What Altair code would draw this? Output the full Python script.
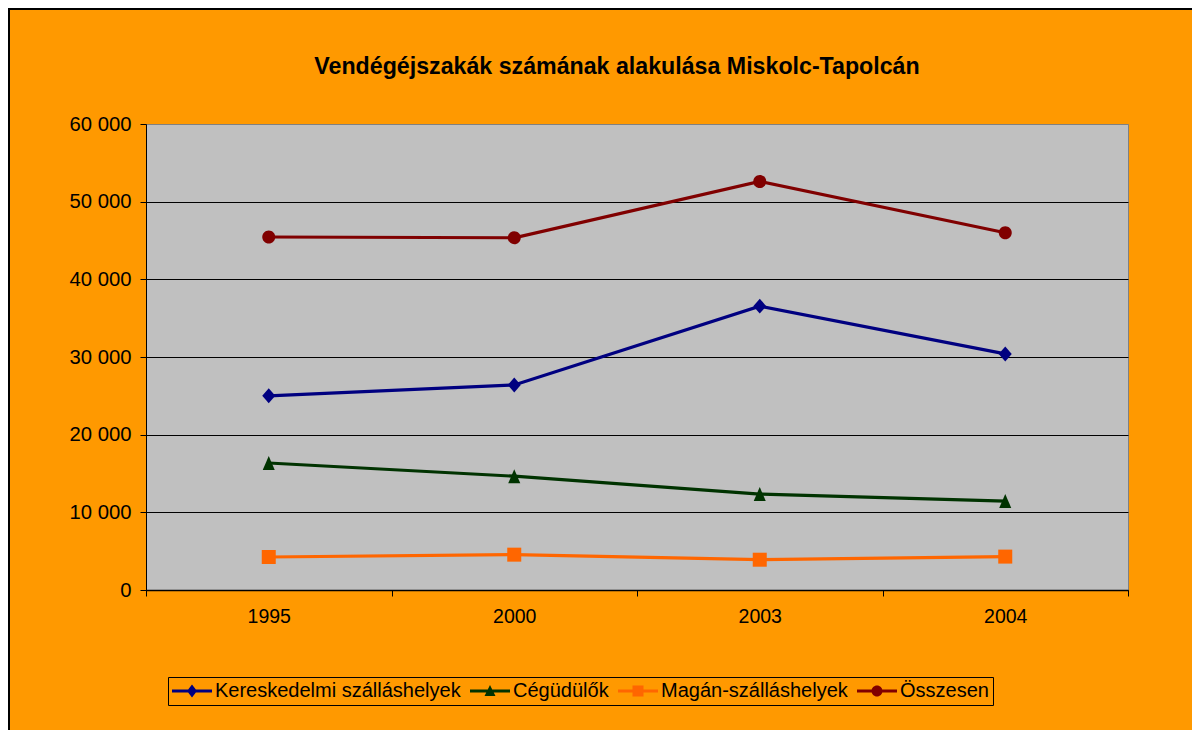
import altair as alt
import pandas as pd

# ---- data ----
years = ["1995", "2000", "2003", "2004"]
series_names = ["Kereskedelmi szálláshelyek", "Cégüdülők", "Magán-szálláshelyek", "Összesen"]
kereskedelmi = [25000, 26400, 36550, 30400]
cegudulok = [16350, 14650, 12350, 11450]
magan = [4250, 4550, 3900, 4300]
osszesen = [45450, 45350, 52600, 46000]
y_ticks = [0, 10000, 20000, 30000, 40000, 50000, 60000]
title_text = "Vendégéjszakák számának alakulása Miskolc-Tapolcán"

colors = ["#000080", "#003300", "#FF6600", "#800000"]

# marker shapes in the plot (custom paths, unit = sqrt(size)/2)
plot_shapes = [
    "M0,-1.07L0.93,0L0,1.07L-0.93,0Z",
    "M0,-1L0.86,1H-0.86Z",
    "M-1,-1H1V1H-1Z",
    "M-0.93,0A0.93,0.93 0 1,1 0.93,0A0.93,0.93 0 1,1 -0.93,0Z",
]
# legend symbols: line (thin filled bar) + marker
LINE = "M-1,-0.15H3V0.15H-1Z"
legend_shapes = [
    LINE + "M1,-0.65L1.5,0L1,0.65L0.5,0Z",
    LINE + "M1,-0.6L1.55,0.5H0.45Z",
    LINE + "M0.45,-0.55H1.55V0.55H0.45Z",
    LINE + "M0.45,0A0.55,0.55 0 1,1 1.55,0A0.55,0.55 0 1,1 0.45,0Z",
]

rows = []
for name, vals in zip(series_names, [kereskedelmi, cegudulok, magan, osszesen]):
    for yr, v in zip(years, vals):
        rows.append({"year": yr, "series": name, "value": v})
df = pd.DataFrame(rows)

FONT = "Liberation Sans"

x_enc = alt.X(
    "year:O",
    bandPosition=0.5,
    scale=alt.Scale(type="band", domain=years, paddingInner=0, paddingOuter=0),
    axis=alt.Axis(
        title=None,
        labelAngle=0,
        labelFontSize=19.5,
        labelColor="black",
        labelPadding=11,
        tickBand="extent",
        tickSize=6,
        tickColor="black",
        domainColor="black",
        domainWidth=1.5,
        grid=False,
    ),
)
y_enc = alt.Y(
    "value:Q",
    scale=alt.Scale(domain=[0, 60000], nice=False),
    axis=alt.Axis(
        title=None,
        values=y_ticks,
        labelExpr="datum.value >= 1000 ? format(datum.value / 1000, 'd') + ' 000' : '0'",
        labelFontSize=20.3,
        labelColor="black",
        labelPadding=9,
        tickSize=6,
        tickColor="black",
        domainColor="black",
        grid=True,
        gridColor={"condition": {"test": "datum.value >= 60000", "value": "#808080"}, "value": "#000000"},
        gridWidth=1,
        gridOpacity=1,
    ),
)

line_layers = []
point_layers = []
for name, col, shp in zip(series_names, colors, plot_shapes):
    base = alt.Chart(df).transform_filter(alt.datum.series == name)
    line_layers.append(
        base.mark_line(strokeWidth=3.2, color=col).encode(x=x_enc, y=y_enc)
    )
    point_layers.append(
        base.mark_point(shape=shp, filled=True, size=196, opacity=1, strokeWidth=0, color=col).encode(
            x=x_enc, y=y_enc
        )
    )

legend_kw = dict(
    title=None,
    orient="none",
    legendX=22,
    legendY=553,
    direction="horizontal",
    symbolSize=400,
    symbolStrokeWidth=0,
    symbolOpacity=1,
    labelOffset=23,
    labelLimit=0,
    columnPadding=9,
    padding=4,
    strokeColor="black",
    fillColor="#FF9900",
    labelFontSize=20,
    labelColor="black",
    labelFont=FONT,
)

# legend-only layer (no rows drawn), carries the merged colour + shape legend
legend_layer = (
    alt.Chart(df)
    .transform_filter("false")
    .mark_point(filled=True, size=400, opacity=1, strokeWidth=0)
    .encode(
        x=x_enc,
        y=y_enc,
        color=alt.Color(
            "series:N",
            scale=alt.Scale(domain=series_names, range=colors),
            legend=alt.Legend(**legend_kw),
        ),
        shape=alt.Shape(
            "series:N",
            scale=alt.Scale(domain=series_names, range=legend_shapes),
            legend=alt.Legend(**legend_kw),
        ),
    )
)

title_layer = alt.Chart(pd.DataFrame({"t": [title_text]})).mark_text(
    fontSize=23.2, fontWeight="bold", color="black", align="center", baseline="alphabetic", font=FONT
).encode(text="t:N", x=alt.value(471), y=alt.value(-50))

frame_df = pd.DataFrame({"k": [0]})
frame_left = alt.Chart(frame_df).mark_rule(color="black", strokeWidth=2).encode(
    x=alt.value(-137), y=alt.value(-116), y2=alt.value(606)
)
frame_top = alt.Chart(frame_df).mark_rule(color="black", strokeWidth=2).encode(
    y=alt.value(-115), x=alt.value(-138), x2=alt.value(1046)
)

chart = (
    alt.layer(*line_layers, *point_layers, legend_layer, title_layer, frame_left, frame_top)
    .properties(
        width=982,
        height=466,
        background="#FF9900",
        autosize=alt.AutoSizeParams(type="none"),
        padding={"left": 138, "top": 116, "right": 64, "bottom": 140},
    )
    .configure(font=FONT)
    .configure_view(fill="#C0C0C0", stroke="#808080", strokeWidth=1)
)

chart.save("out.html", embed_options={"renderer": "svg", "actions": False})
